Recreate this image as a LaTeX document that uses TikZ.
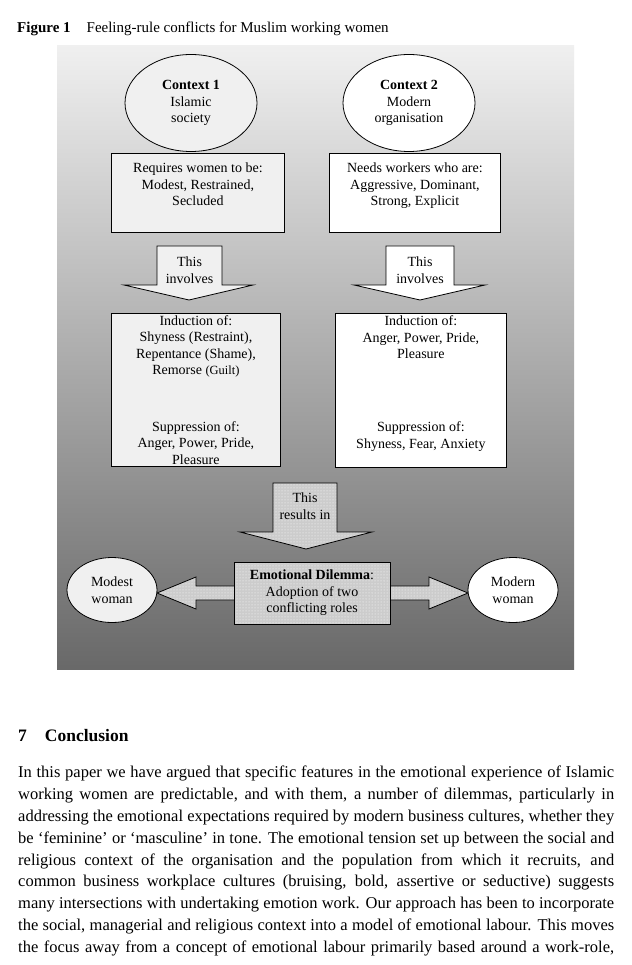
\documentclass[tikz,border=0pt]{standalone}
\usepackage{fontspec}
\setmainfont{Liberation Serif}
\usetikzlibrary{shapes.geometric,patterns}
\definecolor{lg}{gray}{0.94}
\definecolor{dotbg}{gray}{0.80}
\definecolor{ptop}{gray}{0.94}
\definecolor{pmid}{gray}{0.74}
\definecolor{pbot}{gray}{0.41}
\begin{document}
\begin{tikzpicture}[x=1pt,y=1pt,
  dg/.style={font=\fontsize{14}{16.5}\selectfont, align=center},
  bord/.style={draw=black, line width=0.8pt},
  dotfill/.style={preaction={fill=dotbg}, pattern=dots, pattern color=white},
  ctx/.style={dg, ellipse, bord, minimum width=132pt, minimum height=97pt, inner sep=0pt},
  woman/.style={dg, ellipse, bord, minimum width=90pt, minimum height=65pt, inner sep=0pt},
  tbox/.style={dg, bord, anchor=north west, inner sep=0pt}
]
\useasboundingbox (0,0) rectangle (631,-965);
\fill[white] (0,0) rectangle (631,-965);

% caption
\node[anchor=base west, inner sep=0pt, font=\fontsize{15}{18}\selectfont] (cap) at (17,-33)
  {\textbf{Figure 1}\hspace{16pt}Feeling-rule conflicts for Muslim working women};

% panel
\shade[top color=ptop, middle color=pmid, bottom color=pbot] (57,-46) rectangle (574,-669);

% contexts
\node[ctx, fill=lg] (c1) at (191,-103) {\textbf{Context 1}\\Islamic\\society};
\node[ctx, fill=white] (c2) at (409,-103) {\textbf{Context 2}\\Modern\\organisation};

% requirement boxes (multi-line baseline = last line)
\node[tbox, fill=lg, minimum width=173pt, text height=52.5pt, text depth=26.5pt] (r1) at (111,-153)
  {Requires women to be:\\Modest, Restrained,\\Secluded};
\node[tbox, fill=white, minimum width=171pt, text height=52.5pt, text depth=26.5pt] (r2) at (329,-153)
  {Needs workers who are:\\Aggressive, Dominant,\\Strong, Explicit};

% involves arrows
\path[bord, fill=lg] (157,-246) -- (222,-246) -- (222,-285) -- (253,-285) -- (189,-300)
  -- (124,-285) -- (157,-285) -- cycle;
\node[dg, inner sep=0pt] (i1) at (189.5,-270) {This\\involves};
\path[bord, fill=white] (386,-246) -- (454,-246) -- (454,-285) -- (485,-285) -- (420,-300)
  -- (354,-285) -- (386,-285) -- cycle;
\node[dg, inner sep=0pt] (i2) at (420,-270) {This\\involves};

% emotion boxes
\node[tbox, fill=lg, minimum width=169pt, text height=151pt, text depth=2pt] (e1) at (111,-313)
  {Induction of:\\Shyness (Restraint),\\Repentance (Shame),\\Remorse {\fontsize{12.5}{16.5}\selectfont(Guilt)}\\[40pt]Suppression of:\\Anger, Power, Pride,\\Pleasure};
\node[tbox, fill=white, minimum width=171pt, text height=135pt, text depth=19pt] (e2) at (335,-313)
  {Induction of:\\Anger, Power, Pride,\\Pleasure\\[56.5pt]Suppression of:\\Shyness, Fear, Anxiety};

% results arrow
\path[bord, dotfill] (273,-483) -- (337,-483) -- (337,-532) -- (372,-532) -- (306,-549)
  -- (240,-532) -- (273,-532) -- cycle;
\node[dg, inner sep=0pt] (res) at (305,-506) {This\\results in};

% double arrow and dilemma
\path[bord, dotfill] (157,-593) -- (196,-577) -- (196,-586) -- (429,-586) -- (429,-577)
  -- (468,-593) -- (429,-609) -- (429,-600) -- (196,-600) -- (196,-609) -- cycle;
\node[dg, bord, dotfill, minimum width=156pt, minimum height=62pt, inner sep=0pt] (dil) at (312,-593)
  {\textbf{Emotional Dilemma}:\\Adoption of two\\conflicting roles};

\node[woman, fill=lg] (mw) at (112,-590) {Modest\\woman};
\node[woman, fill=white] (nw) at (513,-590) {Modern\\woman};

% section heading
\node[anchor=base west, inner sep=0pt, font=\fontsize{17.5}{20}\selectfont\bfseries] (sec) at (18,-741)
  {7\hspace{18pt}Conclusion};

% paragraph
\node[anchor=north west, inner sep=0pt, align=left, font=\fontsize{16.5}{21.8}\selectfont] (para) at (18,-766)
  {\makebox[596pt][s]{In this paper we have argued that specific features in the emotional experience of Islamic}\\
   \makebox[596pt][s]{working women are predictable, and with them, a number of dilemmas, particularly in}\\
   \makebox[596pt][s]{addressing the emotional expectations required by modern business cultures, whether they}\\
   \makebox[596pt][s]{be ‘feminine’ or ‘masculine’ in tone. The emotional tension set up between the social and}\\
   \makebox[596pt][s]{religious context of the organisation and the population from which it recruits, and}\\
   \makebox[596pt][s]{common business workplace cultures (bruising, bold, assertive or seductive) suggests}\\
   \makebox[596pt][s]{many intersections with undertaking emotion work. Our approach has been to incorporate}\\
   \makebox[596pt][s]{the social, managerial and religious context into a model of emotional labour. This moves}\\
   \makebox[596pt][s]{the focus away from a concept of emotional labour primarily based around a work-role,}};
\end{tikzpicture}
\end{document}
